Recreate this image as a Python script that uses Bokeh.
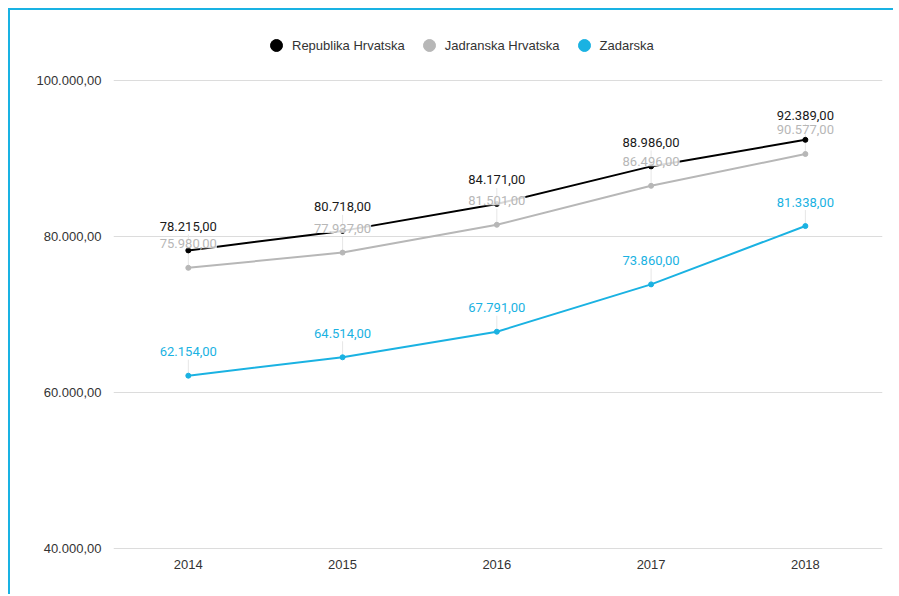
import math
from bokeh.plotting import figure
from bokeh.models import ColumnDataSource, FixedTicker, Legend, LegendItem
from bokeh.core.properties import value
from bokeh.embed import file_html
from bokeh.resources import INLINE

years = [2014, 2015, 2016, 2017, 2018]
republika = [78215, 80718, 84171, 88986, 92389]
jadranska = [75980, 77937, 81501, 86496, 90577]
zadarska = [62154, 64514, 67791, 73860, 81338]
series_names = ["Republika Hrvatska", "Jadranska Hrvatska", "Zadarska"]
series_colors = ["#000000", "#b7b7b7", "#1ab2e2"]
label_colors = ["#1a1a1a", "#b7b7b7", "#1ab2e2"]
y_ticks = [40000, 60000, 80000, 100000]
y_tick_labels = ["40.000,00", "60.000,00", "80.000,00", "100.000,00"]
x_tick_labels = ["2014", "2015", "2016", "2017", "2018"]


def fmt(v):
    return f"{v:,.2f}".replace(",", "X").replace(".", ",").replace("X", ".")


FONT = "Roboto"
AXFONT = "Liberation Sans"

p = figure(width=885, height=586, output_backend="svg", toolbar_location=None,
           x_range=(2013.515, 2018.5), y_range=(39740, 106410),
           min_border_left=103, min_border_right=13, min_border_top=20, min_border_bottom=46)
p.styles = {"border-top": "2px solid #19b2e3", "border-left": "2px solid #19b2e3",
            "margin-left": "8px", "margin-top": "8px"}
p.outline_line_color = None
p.background_fill_color = "white"
p.border_fill_color = "white"

p.xgrid.grid_line_color = None
p.ygrid.grid_line_color = "#dcdcdc"
p.ygrid.grid_line_width = 1

p.yaxis.ticker = FixedTicker(ticks=y_ticks)
p.yaxis.major_label_overrides = dict(zip(y_ticks, y_tick_labels))
p.xaxis.ticker = FixedTicker(ticks=years)
p.xaxis.major_label_overrides = dict(zip(years, x_tick_labels))
for ax in (p.xaxis, p.yaxis):
    ax.axis_line_color = None
    ax.major_tick_line_color = None
    ax.minor_tick_line_color = None
    ax.major_label_text_font = AXFONT
    ax.major_label_text_font_size = "13px"
    ax.major_label_text_color = "#333333"
p.yaxis.major_label_standoff = 6
p.xaxis.major_label_standoff = 3

all_series = [republika, jadranska, zadarska]
for vals, color in zip(all_series, series_colors):
    src = ColumnDataSource(dict(x=years, y=vals))
    p.ray(x="x", y="y", source=src, length=16, length_units="screen", angle=math.pi / 2,
          line_color="#e6e6e6", line_width=1)

marker_renderers = []
for name, vals, color in zip(series_names, all_series, series_colors):
    src = ColumnDataSource(dict(x=years, y=vals))
    p.line(x="x", y="y", source=src, line_color=color, line_width=2)
    m = p.scatter(x="x", y="y", source=src, size=5, marker="circle",
                  fill_color=color, line_color=color)
    marker_renderers.append((name, m))

for vals, lcolor in zip(all_series, label_colors):
    src = ColumnDataSource(dict(x=years, y=vals, t=[fmt(v) for v in vals]))
    p.text(x="x", y="y", text="t", source=src, y_offset=-24,
           text_align="center", text_baseline="middle",
           text_font=value(FONT), text_font_size="13px", text_color=lcolor,
           background_fill_color="white", background_fill_alpha=0.85)

legend = Legend(items=[LegendItem(label=n, renderers=[r]) for n, r in marker_renderers],
                orientation="horizontal", location=(148, 490),
                border_line_color=None, background_fill_alpha=0,
                label_text_font=AXFONT, label_text_font_size="13px", label_text_color="#333333",
                glyph_width=30, glyph_height=30, label_height=30, label_standoff=1,
                spacing=9, padding=0, margin=0)
p.add_layout(legend)

open("out.html", "w").write(file_html(p, INLINE))
